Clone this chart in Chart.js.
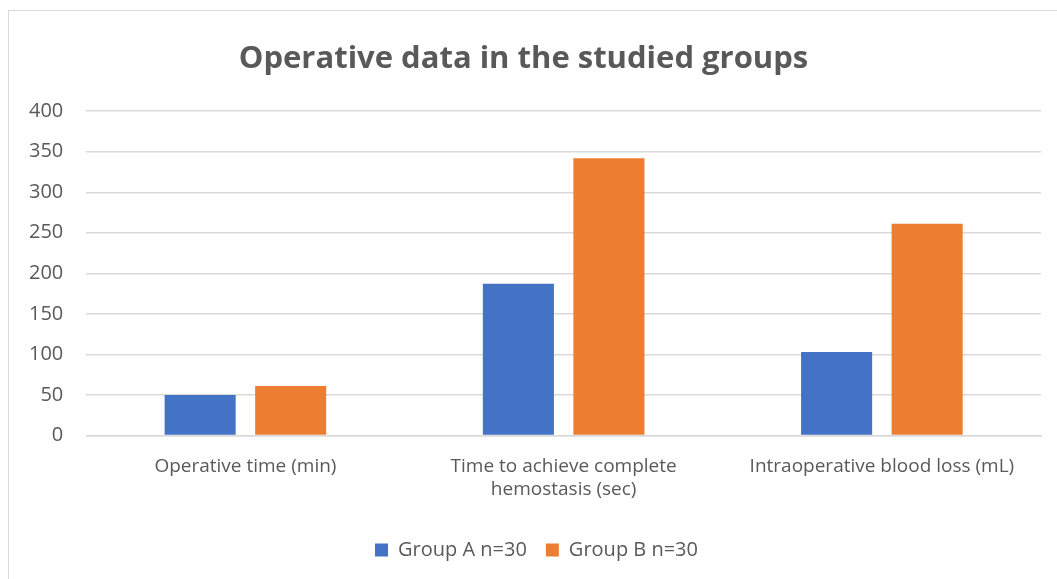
<!DOCTYPE html>
<html>
<head>
<meta charset="utf-8">
<script src="https://cdn.jsdelivr.net/npm/chart.js@4"></script>
<style>
    html, body { margin: 0; padding: 0; background: #fff; overflow: hidden; }
    .frame {
        position: absolute; left: 8px; top: 10px;
        width: 1100px; height: 620px;
        border: 1.5px solid #d9d9d9; box-sizing: border-box;
    }
    .chart-box { position: absolute; left: 0; top: 0; width: 1057px; height: 579px; }
</style>
</head>
<body>
<div class="frame"></div>
<div class="chart-box"><canvas id="chart"></canvas></div>
<script>
// Chart data
const categories = [
    'Operative time (min)',
    ['Time to achieve complete', 'hemostasis (sec)'],
    'Intraoperative blood loss (mL)'
];
const groupA = [50, 187, 103];
const groupB = [61, 342, 261];
const seriesNames = ['Group A n=30', 'Group B n=30'];
const yTicks = [0, 50, 100, 150, 200, 250, 300, 350, 400];

const TEXT = '#595959';
const FONT = "'Open Sans', sans-serif";

// legend sits a little right of the canvas centre in the original
const legendShift = {
    id: 'legendShift',
    afterLayout(chart) {
        chart.legend.left += 13;
        chart.legend.right += 13;
    }
};

const ctx = document.getElementById('chart').getContext('2d');
new Chart(ctx, {
    type: 'bar',
    data: {
        labels: categories,
        datasets: [
            {
                label: seriesNames[0],
                data: groupA,
                backgroundColor: '#4472C4',
                categoryPercentage: 0.569,
                barPercentage: 0.785
            },
            {
                label: seriesNames[1],
                data: groupB,
                backgroundColor: '#ED7D31',
                categoryPercentage: 0.569,
                barPercentage: 0.785
            }
        ]
    },
    plugins: [legendShift],
    options: {
        responsive: true,
        maintainAspectRatio: false,
        animation: false,
        layout: { padding: { left: 6, right: 16, top: 0, bottom: 9 } },
        plugins: {
            title: {
                display: true,
                text: 'Operative data in the studied groups',
                color: TEXT,
                font: { family: FONT, size: 31, weight: 'bold' },
                padding: { top: 41, bottom: 33 }
            },
            legend: {
                position: 'bottom',
                labels: {
                    color: TEXT,
                    font: { family: FONT, size: 20 },
                    boxWidth: 13,
                    boxHeight: 13,
                    padding: 19
                }
            },
            tooltip: { enabled: false }
        },
        scales: {
            x: {
                grid: { display: false, drawTicks: false },
                border: { color: '#d9d9d9', width: 1.5 },
                ticks: {
                    color: TEXT,
                    font: { family: FONT, size: 19 },
                    padding: 20,
                    maxRotation: 0
                }
            },
            y: {
                min: 0,
                max: 400,
                afterBuildTicks: (axis) => { axis.ticks = yTicks.map(v => ({ value: v })); },
                grid: { color: '#d9d9d9', lineWidth: 1.5, drawTicks: false },
                border: { display: false },
                ticks: {
                    color: TEXT,
                    font: { family: FONT, size: 20 },
                    padding: 23
                }
            }
        }
    }
});
</script>
</body>
</html>
